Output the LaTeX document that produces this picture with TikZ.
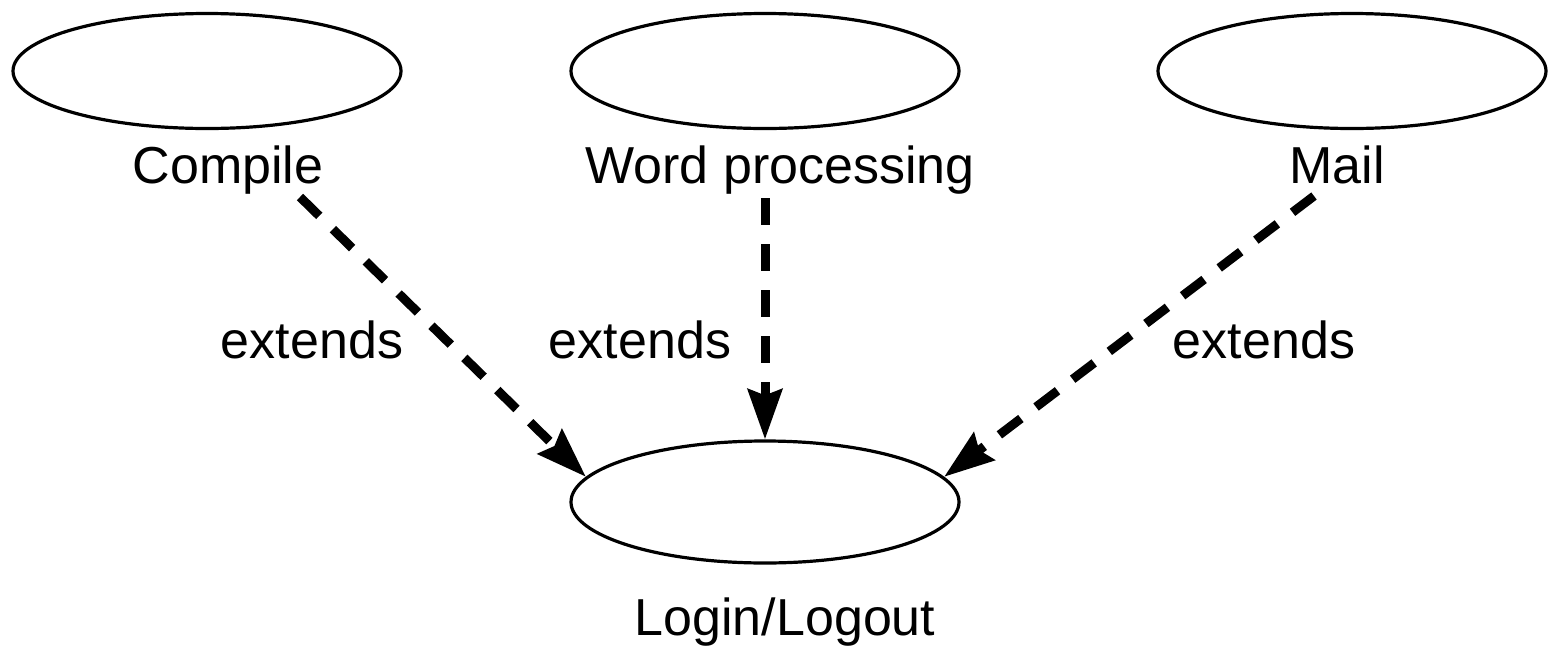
\documentclass[tikz,border=0pt]{standalone}
\usepackage{fontspec}
\setmainfont{Liberation Sans}
\usetikzlibrary{arrows.meta,shapes.geometric}

\tikzset{
  usecase/.style={draw, ellipse, line width=1.6pt, minimum width=194pt, minimum height=57.5pt, inner sep=0pt},
  lbl/.style={anchor=base, inner sep=0pt, font=\fontsize{26}{30}\selectfont},
  ext/.style={line width=4.5pt, dash pattern=on 13.5pt off 9.5pt, -{Stealth[length=25pt, width=17pt, inset=3pt]}}
}

\begin{document}
\begin{tikzpicture}[x=0.5pt, y=-0.5pt]
  \useasboundingbox (0,0) rectangle (1549,649);
  % use cases
  \node[usecase] (compile) at (207,71) {};
  \node[usecase] (word) at (765,71) {};
  \node[usecase] (mail) at (1352,71) {};
  \node[usecase, minimum height=61pt] (login) at (765,502) {};
  % their names
  \node[lbl] (compileName) at (228,183) {Compile};
  \node[lbl] (wordName) at (780,183) {Word processing};
  \node[lbl] (mailName) at (1337,183) {Mail};
  \node[lbl] (loginName) at (785,635) {Login/Logout};
  % extends
  \coordinate (compileStart) at (300,197);
  \coordinate (wordStart) at (765,198);
  \coordinate (mailStart) at (1314,196);
  \draw[ext] (compileStart) -- (login.172);
  \draw[ext] (wordStart) -- (login.north);
  \draw[ext] (mailStart) -- (login.8);
  \node[lbl] (ext1) at (312,358) {extends};
  \node[lbl] (ext2) at (640,358) {extends};
  \node[lbl] (ext3) at (1264,358) {extends};
\end{tikzpicture}
\end{document}
